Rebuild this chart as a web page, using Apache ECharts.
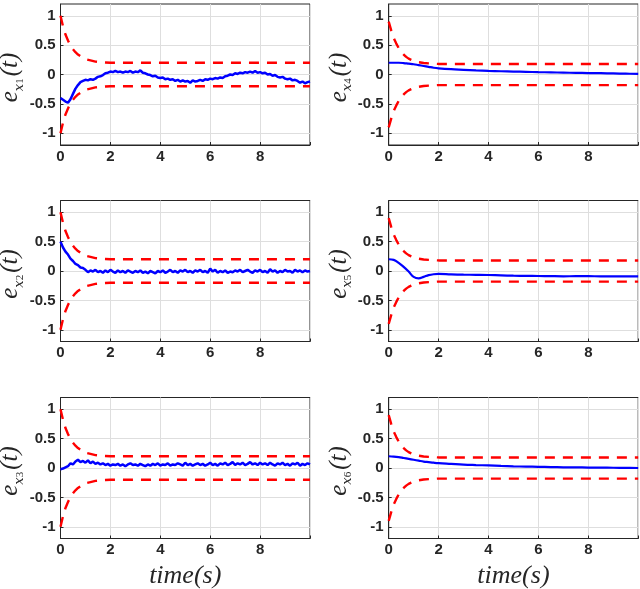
<!DOCTYPE html>
<html>
<head>
<meta charset="utf-8">
<script src="https://cdn.jsdelivr.net/npm/echarts@6/dist/echarts.min.js"></script>
<style>
  html, body { margin: 0; padding: 0; background: #fff; }
  #main { width: 640px; height: 589px; }
</style>
</head>
<body>
<div id="main"></div>
<script>
// sample times of the noisy traces (s)
const time = [0,0.1,0.2,0.3,0.4,0.5,0.6,0.7,0.8,0.9,1,1.1,1.2,1.3,1.4,1.5,1.6,1.7,1.8,1.9,
  2,2.1,2.2,2.3,2.4,2.5,2.6,2.7,2.8,2.9,3,3.1,3.2,3.3,3.4,3.5,3.6,3.7,3.8,3.9,
  4,4.1,4.2,4.3,4.4,4.5,4.6,4.7,4.8,4.9,5,5.1,5.2,5.3,5.4,5.5,5.6,5.7,5.8,5.9,
  6,6.1,6.2,6.3,6.4,6.5,6.6,6.7,6.8,6.9,7,7.1,7.2,7.3,7.4,7.5,7.6,7.7,7.8,7.9,
  8,8.1,8.2,8.3,8.4,8.5,8.6,8.7,8.8,8.9,9,9.1,9.2,9.3,9.4,9.5,9.6,9.7,9.8,9.9,10];
// sample times of the smooth traces
const smoothTime = [0,0.2,0.4,0.6,0.8,1,1.2,1.4,1.6,1.8,2,2.5,3,3.5,4,4.5,5,5.5,6,6.5,7,7.5,8,8.5,9,9.5,10];
// sample times of the red bounds
const boundTime = [0,0.1,0.2,0.3,0.4,0.5,0.6,0.7,0.8,0.9,1,1.2,1.4,1.6,1.8,2,10];

const boundUpLeft  = [1,0.82,0.68,0.58,0.49,0.43,0.38,0.34,0.31,0.28,0.26,0.24,0.22,0.21,0.205,0.2,0.2];
const boundLowLeft = [-1,-0.82,-0.68,-0.58,-0.49,-0.43,-0.38,-0.34,-0.31,-0.28,-0.26,-0.24,-0.22,-0.21,-0.205,-0.2,-0.2];
const boundUpRight  = [0.9,0.75,0.62,0.53,0.45,0.39,0.34,0.3,0.27,0.25,0.23,0.21,0.195,0.19,0.185,0.18,0.18];
const boundLowRight = [-0.9,-0.75,-0.62,-0.53,-0.45,-0.39,-0.34,-0.3,-0.27,-0.25,-0.23,-0.21,-0.195,-0.19,-0.185,-0.18,-0.18];

const ex1 = [
  -0.40,-0.43,-0.46,-0.48,-0.42,-0.33,-0.24,-0.18,-0.13,-0.11,
  -0.09,-0.10,-0.08,-0.09,-0.07,-0.04,-0.03,-0.01,0.02,0.03,
  0.05,0.04,0.06,0.04,0.05,0.03,0.05,0.04,0.06,0.03,
  0.05,0.04,0.07,0.03,0.02,0.00,-0.01,-0.03,-0.02,-0.05,
  -0.06,-0.05,-0.08,-0.07,-0.09,-0.08,-0.11,-0.09,-0.12,-0.10,
  -0.12,-0.11,-0.14,-0.10,-0.12,-0.11,-0.09,-0.11,-0.08,-0.09,
  -0.07,-0.08,-0.06,-0.07,-0.05,-0.06,-0.03,-0.02,0.00,-0.01,
  0.02,0.01,0.03,0.02,0.04,0.03,0.05,0.03,0.06,0.03,
  0.04,0.02,0.03,0.00,0.01,-0.02,-0.01,-0.04,-0.05,-0.04,
  -0.07,-0.08,-0.07,-0.10,-0.09,-0.11,-0.14,-0.12,-0.15,-0.13,
  -0.12];
const ex2 = [
  0.50,0.40,0.33,0.28,0.21,0.17,0.12,0.10,0.06,0.05,
  0.02,-0.02,0.01,-0.01,0.02,-0.02,0.00,-0.03,0.01,-0.02,
  0.02,-0.01,-0.03,0.01,-0.02,0.00,-0.03,0.01,-0.01,-0.03,
  0.00,-0.02,0.01,-0.03,-0.01,-0.04,0.00,-0.02,-0.04,0.00,
  -0.02,0.01,-0.03,-0.01,0.02,-0.02,0.00,-0.03,0.01,-0.01,
  0.02,-0.02,0.00,-0.03,0.01,-0.01,0.02,-0.02,0.00,-0.03,
  0.04,-0.01,0.02,-0.03,0.00,-0.02,0.01,-0.03,-0.01,-0.02,
  0.01,-0.01,0.02,-0.02,0.00,0.02,-0.01,-0.03,0.01,-0.01,
  0.02,-0.02,0.00,-0.03,0.03,-0.01,0.01,-0.03,0.00,-0.02,
  0.02,-0.01,0.00,-0.03,0.02,-0.01,0.01,-0.02,0.01,-0.01,
  0.00];
const ex3 = [
  -0.02,-0.01,0.01,0.03,0.08,0.06,0.11,0.14,0.10,0.12,
  0.09,0.13,0.08,0.11,0.07,0.09,0.06,0.08,0.05,0.07,
  0.04,0.06,0.05,0.07,0.04,0.06,0.03,0.06,0.08,0.05,
  0.06,0.04,0.07,0.05,0.03,0.06,0.04,0.07,0.05,0.08,
  0.04,0.06,0.05,0.08,0.04,0.06,0.05,0.08,0.06,0.04,
  0.09,0.05,0.07,0.04,0.06,0.08,0.05,0.07,0.04,0.06,
  0.09,0.05,0.07,0.04,0.08,0.06,0.09,0.05,0.07,0.10,
  0.05,0.08,0.06,0.09,0.05,0.07,0.10,0.06,0.08,0.05,
  0.09,0.06,0.08,0.05,0.09,0.06,0.04,0.08,0.06,0.09,
  0.05,0.07,0.04,0.08,0.06,0.09,0.04,0.07,0.05,0.08,
  0.06];
const ex4 = [0.20,0.20,0.20,0.195,0.185,0.175,0.16,0.145,0.13,0.115,0.105,0.09,0.08,0.07,0.062,0.055,0.05,0.045,0.04,0.036,0.032,0.028,0.025,0.022,0.018,0.014,0.01];
const ex5 = [0.20,0.19,0.14,0.07,-0.01,-0.10,-0.125,-0.10,-0.07,-0.055,-0.05,-0.058,-0.063,-0.065,-0.068,-0.075,-0.08,-0.083,-0.085,-0.088,-0.09,-0.088,-0.088,-0.09,-0.09,-0.09,-0.092];
const ex6 = [0.20,0.195,0.185,0.17,0.155,0.14,0.125,0.11,0.10,0.09,0.082,0.07,0.058,0.05,0.043,0.035,0.028,0.024,0.02,0.016,0.012,0.01,0.008,0.006,0.004,0.002,0.0];

const yTicks = [-1, -0.5, 0, 0.5, 1];
const panels = [
  { sub: '1', t: time, v: ex1, col: 0, row: 0 },
  { sub: '2', t: time, v: ex2, col: 0, row: 1 },
  { sub: '3', t: time, v: ex3, col: 0, row: 2 },
  { sub: '4', t: smoothTime, v: ex4, col: 1, row: 0 },
  { sub: '5', t: smoothTime, v: ex5, col: 1, row: 1 },
  { sub: '6', t: smoothTime, v: ex6, col: 1, row: 2 }
];

const colLeft = [60.5, 388.7];
const rowTop = [4, 200.5, 397.5];
const axisColor = '#262626';
const gridColor = '#dedede';
const tickFont = { color: axisColor, fontWeight: 'bold', fontSize: 15, fontFamily: 'Liberation Sans, Arial, sans-serif' };
const mathFont = 'Liberation Serif, Times New Roman, serif';

function zip(t, v) {
  return t.map((x, i) => [x, v[i]]);
}

const grid = [], xAxis = [], yAxis = [], series = [];

panels.forEach((p, i) => {
  grid.push({
    left: colLeft[p.col], top: rowTop[p.row], width: 249.5, height: 141,
    show: true, borderColor: axisColor, borderWidth: 1, backgroundColor: 'transparent',
    outerBoundsMode: 'none'
  });
  xAxis.push({
    gridIndex: i, type: 'value', min: 0, max: 10, interval: 2,
    name: p.row === 2 ? 'time(s)' : '',
    nameLocation: 'middle', nameGap: 25,
    nameTextStyle: { fontFamily: mathFont, fontStyle: 'italic', fontSize: 26, color: axisColor },
    axisLine: { show: true, onZero: false, lineStyle: { color: axisColor, width: 1 } },
    axisTick: { show: true, inside: true, length: 3, lineStyle: { color: axisColor } },
    axisLabel: Object.assign({ margin: 4, formatter: v => (v === 10 ? '' : String(v)) }, tickFont),
    splitLine: { show: true, lineStyle: { color: gridColor, width: 1 } }
  });
  yAxis.push({
    gridIndex: i, type: 'value', min: -1.2, max: 1.2,
    name: '{e|e}{s|x}{n|' + p.sub + '}{p|(t)}',
    nameLocation: 'middle', nameGap: 31, nameRotate: 90,
    nameTextStyle: {
      color: axisColor,
      padding: [0, 6, 0, 0],
      rich: {
        e: { fontFamily: mathFont, fontStyle: 'italic', fontSize: 25, lineHeight: 30, verticalAlign: 'middle', color: axisColor },
        s: { fontFamily: 'DejaVu Serif, serif', fontStyle: 'italic', fontSize: 13, lineHeight: 16, verticalAlign: 'bottom', color: axisColor },
        n: { fontFamily: mathFont, fontSize: 11, lineHeight: 8, verticalAlign: 'bottom', color: axisColor },
        p: { fontFamily: mathFont, fontStyle: 'italic', fontSize: 25, lineHeight: 30, verticalAlign: 'middle', color: axisColor, padding: [0, 0, 0, 2] }
      }
    },
    axisLine: { show: true, onZero: false, lineStyle: { color: axisColor, width: 1 } },
    axisTick: { show: true, inside: true, length: 3, customValues: yTicks, lineStyle: { color: axisColor } },
    axisLabel: Object.assign({ margin: 5, customValues: yTicks }, tickFont),
    splitLine: { show: true, lineStyle: { color: gridColor, width: 1 } }
  });

  const up = p.col === 0 ? boundUpLeft : boundUpRight;
  const low = p.col === 0 ? boundLowLeft : boundLowRight;
  [up, low].forEach(b => {
    series.push({
      type: 'line', xAxisIndex: i, yAxisIndex: i, data: zip(boundTime, b),
      showSymbol: false, silent: true,
      lineStyle: { color: '#ff0000', width: 2.4, type: [10, 8] }
    });
  });
  series.push({
    type: 'line', xAxisIndex: i, yAxisIndex: i, data: zip(p.t, p.v),
    showSymbol: false, silent: true, smooth: p.col === 1 ? 0.4 : false,
    lineStyle: { color: '#0000ff', width: p.col === 0 ? 2.5 : 2.2 }
  });
});

const chart = echarts.init(document.getElementById('main'));
chart.setOption({
  animation: false,
  backgroundColor: '#fff',
  grid: grid,
  xAxis: xAxis,
  yAxis: yAxis,
  series: series
});
</script>
</body>
</html>
